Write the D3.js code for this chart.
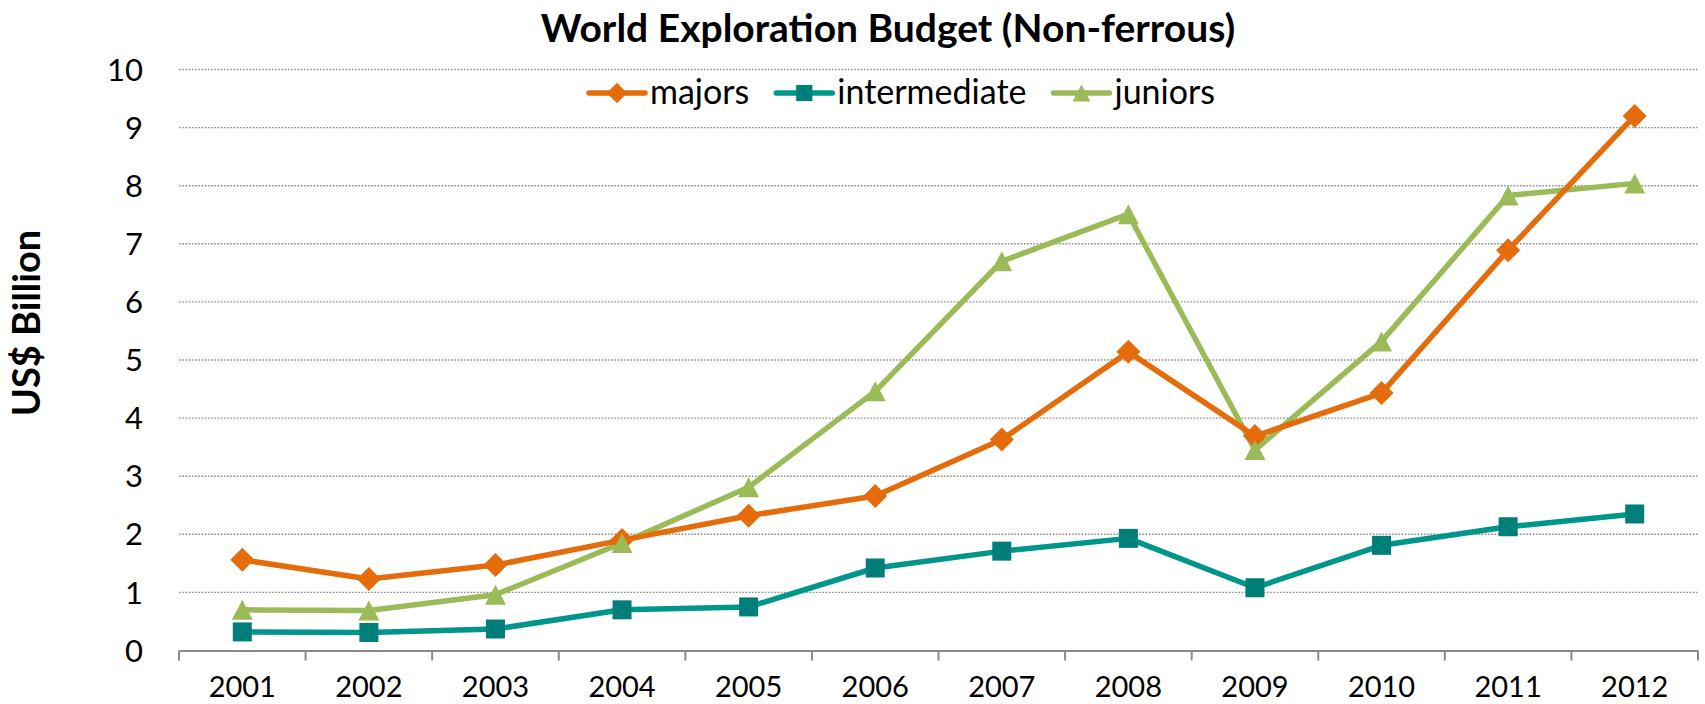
<!DOCTYPE html>
<html>
<head>
<meta charset="utf-8">
<script src="https://cdn.jsdelivr.net/npm/d3@7"></script>
<style>
  body { margin: 0; background: #fff; }
  text { font-family: Lato, "Open Sans", sans-serif; fill: #000; }
</style>
</head>
<body>
<div id="chart"></div>
<script>
// World exploration budget, non-ferrous, by company type (US$ billion)

const years = ["2001", "2002", "2003", "2004", "2005", "2006", "2007", "2008", "2009", "2010", "2011", "2012"];
const majors = [1.56, 1.23, 1.47, 1.90, 2.32, 2.66, 3.63, 5.14, 3.69, 4.43, 6.89, 9.20];
const intermediate = [0.32, 0.31, 0.37, 0.70, 0.75, 1.42, 1.71, 1.93, 1.08, 1.81, 2.13, 2.35];
const juniors = [0.70, 0.69, 0.96, 1.85, 2.81, 4.46, 6.70, 7.51, 3.45, 5.32, 7.83, 8.04];
const yTicks = [0, 1, 2, 3, 4, 5, 6, 7, 8, 9, 10];

const width = 1705,
  height = 704;
const margin = { top: 69.5, right: 7, bottom: 53.5, left: 179 };

const series = [
  { name: "majors", values: majors, line: "#e46c0a", fill: "#e46c0a", symbol: "diamond" },
  { name: "intermediate", values: intermediate, line: "#00968a", fill: "#007f7a", symbol: "square" },
  { name: "juniors", values: juniors, line: "#9bbb59", fill: "#9bbb59", symbol: "triangle" }
];

const svg = d3.select("#chart")
  .append("svg")
  .attr("width", width)
  .attr("height", height);

const x = d3.scaleBand()
  .domain(years)
  .range([margin.left, width - margin.right]);

const y = d3.scaleLinear()
  .domain([0, 10])
  .range([height - margin.bottom, margin.top]);

// marker shapes, sized in px
function marker(sel, s) {
  if (s.symbol === "diamond") {
    sel.append("path").attr("d", "M0,-12L12,0L0,12L-12,0Z");
  } else if (s.symbol === "square") {
    sel.append("rect").attr("x", -9.5).attr("y", -9.5).attr("width", 19).attr("height", 19);
  } else {
    sel.append("path").attr("d", "M0,-11L10.5,9L-10.5,9Z").attr("transform", "translate(0,1)");
  }
  sel.selectAll("*").attr("fill", s.fill);
}

// dotted gridlines
svg.append("g")
  .selectAll("line")
  .data(yTicks.filter(d => d > 0))
  .join("line")
  .attr("x1", margin.left)
  .attr("x2", width - margin.right)
  .attr("y1", d => y(d))
  .attr("y2", d => y(d))
  .attr("stroke", "#8c8c8c")
  .attr("stroke-width", 1.4)
  .attr("stroke-dasharray", "1.6,1.6");

// y tick labels
svg.append("g")
  .selectAll("text")
  .data(yTicks)
  .join("text")
  .attr("x", 143)
  .attr("y", d => y(d))
  .attr("dy", "0.36em")
  .attr("text-anchor", "end")
  .style("font-size", "31px")
  .text(d => d);

// x axis: baseline + tick marks between categories
const xAxis = svg.append("g")
  .attr("transform", `translate(0,${y(0)})`)
  .call(d3.axisBottom(x).tickSize(0).tickPadding(0).tickFormat(""));
xAxis.select(".domain").attr("stroke", "#8a8a8a").attr("stroke-width", 2);

const edges = years.map(d => x(d)).concat([x(years[years.length - 1]) + x.bandwidth()]);
xAxis.selectAll(".edge")
  .data(edges)
  .join("line")
  .attr("class", "edge")
  .attr("x1", d => d)
  .attr("x2", d => d)
  .attr("y1", 0)
  .attr("y2", 10)
  .attr("stroke", "#8a8a8a")
  .attr("stroke-width", 2);

svg.append("g")
  .selectAll("text")
  .data(years)
  .join("text")
  .attr("x", d => x(d) + x.bandwidth() / 2)
  .attr("y", 697)
  .attr("text-anchor", "middle")
  .style("font-size", "29px")
  .text(d => d);

// lines
const line = d3.line()
  .x((d, i) => x(years[i]) + x.bandwidth() / 2)
  .y(d => y(d));

svg.append("g")
  .selectAll("path")
  .data(series.slice().reverse())
  .join("path")
  .attr("d", d => line(d.values))
  .attr("fill", "none")
  .attr("stroke", d => d.line)
  .attr("stroke-width", 5.5)
  .attr("stroke-linejoin", "round")
  .attr("stroke-linecap", "round");

// markers
series.forEach(s => {
  svg.append("g")
    .selectAll("g")
    .data(s.values)
    .join("g")
    .attr("transform", (d, i) => `translate(${x(years[i]) + x.bandwidth() / 2},${y(d)})`)
    .each(function () { marker(d3.select(this), s); });
});

// title
svg.append("text")
  .attr("x", 888)
  .attr("y", 42)
  .attr("text-anchor", "middle")
  .style("font-size", "39px")
  .style("font-weight", "bold")
  .text("World Exploration Budget (Non-ferrous)");

// y axis title
svg.append("text")
  .attr("transform", "translate(40,323) rotate(-90)")
  .attr("text-anchor", "middle")
  .style("font-size", "38px")
  .style("font-weight", "bold")
  .text("US$ Billion");

// legend, laid out left to right then centred
const legend = svg.append("g").attr("transform", "translate(0,93)");
let cursor = 0;
series.forEach(s => {
  const g = legend.append("g").attr("transform", `translate(${cursor},0)`);
  g.append("line")
    .attr("x1", 0).attr("x2", 56)
    .attr("stroke", s.line)
    .attr("stroke-width", 5.5)
    .attr("stroke-linecap", "round");
  const m = g.append("g");
  marker(m, s);
  m.attr("transform", "translate(28,0) scale(0.85)");
  const t = g.append("text")
    .attr("x", 61)
    .attr("dy", "0.33em")
    .style("font-size", "34px")
    .text(s.name);
  cursor += 61 + t.node().getComputedTextLength() + 27;
});
const legendWidth = cursor - 27;
legend.attr("transform", `translate(${902 - legendWidth / 2},93)`);
</script>
</body>
</html>
